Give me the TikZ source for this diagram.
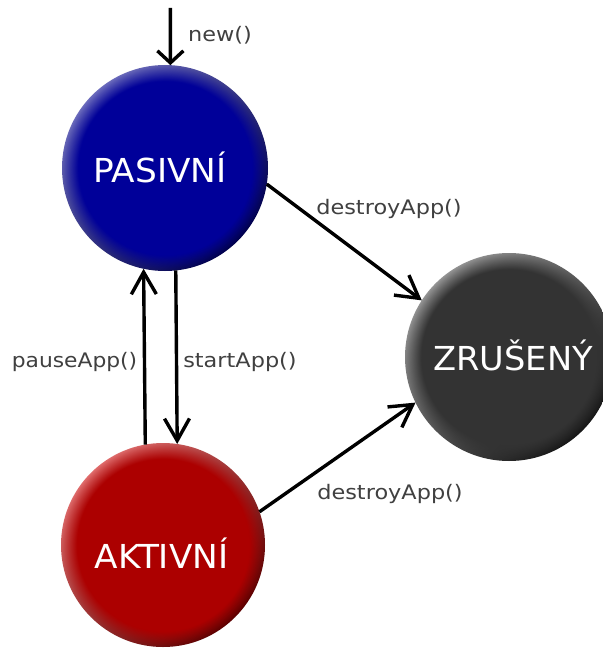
\documentclass[tikz,border=0pt]{standalone}
\usepackage{fontspec}
\setmainfont{DejaVu Sans}
\usetikzlibrary{arrows.meta,fadings}
\definecolor{Pbase}{RGB}{0,0,153}
\definecolor{Plight}{RGB}{110,110,190}
\definecolor{Pdark}{RGB}{0,0,70}
\definecolor{Abase}{RGB}{172,0,0}
\definecolor{Alight}{RGB}{225,110,110}
\definecolor{Adark}{RGB}{85,0,0}
\definecolor{Zbase}{RGB}{51,51,51}
\definecolor{Zlight}{RGB}{150,150,150}
\definecolor{Zdark}{RGB}{20,20,20}
\definecolor{lblgray}{RGB}{64,64,64}
\pgfdeclareradialshading{bevelsh}{\pgfpointorigin}{color(0bp)=(pgftransparent!0); color(21bp)=(pgftransparent!0); color(25bp)=(pgftransparent!100); color(50bp)=(pgftransparent!100)}
\pgfdeclarefading{bevel}{\pgfuseshading{bevelsh}}
\tikzset{
  stnode/.style={circle, inner sep=0pt, outer sep=0pt, minimum size=#1},
  biglbl/.style={text=white, font=\fontsize{33}{40}\selectfont, inner sep=0pt, anchor=base},
  smalllbl/.style={text=lblgray, font=\fontsize{20}{24}\selectfont, inner sep=0pt, anchor=base},
  conn/.style={line width=3.4pt, draw=black},
  longtip/.style={-{Straight Barb[length=22pt,width=25pt]}},
  shorttip/.style={-{Straight Barb[length=12pt,width=26pt]}}
}
\begin{document}
\begin{tikzpicture}[x=1pt,y=-1pt]
\useasboundingbox (0,0) rectangle (602,650);
\fill[white] (0,0) rectangle (602,650);
% states
\node[stnode=206pt, shading=axis, top color=Plight, bottom color=Pdark, shading angle=45] (P) at (165,168) {};
\fill[Pbase, path fading=bevel] (P.center) circle[radius=103pt];
\node[stnode=204pt, shading=axis, top color=Alight, bottom color=Adark, shading angle=45] (A) at (163,545) {};
\fill[Abase, path fading=bevel] (A.center) circle[radius=102pt];
\node[stnode=208pt, shading=axis, top color=Zlight, bottom color=Zdark, shading angle=45] (Z) at (509,357) {};
\fill[Zbase, path fading=bevel] (Z.center) circle[radius=104pt];
% state labels
\node[biglbl] (Pt) at (160,182) {\scalebox{1.04}[1]{PASIVNÍ}};
\node[biglbl] (At) at (161.5,568) {\scalebox{1.04}[1]{AKTIVNÍ}};
\node[biglbl] (Zt) at (513,370) {\scalebox{1.02}[1]{ZRUŠENÝ}};
% connectors
\coordinate (n0) at (170.4,8);
\draw[conn, shorttip] (n0) -- (P.87);
\draw[conn, longtip] (A.100.1) -- (P.258.8);
\draw[conn, longtip] (P.276.5) -- (A.82.3);
\draw[conn, longtip] (P.-9.6) -- (Z.147.4);
\draw[conn, longtip] (A.19.1) -- (Z.206.6);
% connector labels
\node[smalllbl] (lnew) at (220,42) {\scalebox{1.12}[1]{new()}};
\node[smalllbl] (ld1) at (389,214) {\scalebox{1.12}[1]{destroyApp()}};
\node[smalllbl] (ld2) at (390,499) {\scalebox{1.12}[1]{destroyApp()}};
\node[smalllbl] (lpause) at (74.5,367) {\scalebox{1.09}[1]{pauseApp()}};
\node[smalllbl] (lstart) at (240,367) {\scalebox{1.12}[1]{startApp()}};
\end{tikzpicture}
\end{document}
